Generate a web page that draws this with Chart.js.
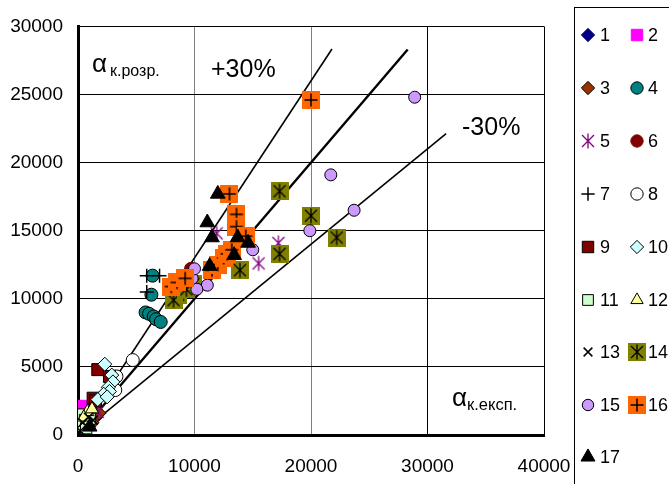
<!DOCTYPE html>
<html><head><meta charset="utf-8">
<script src="https://cdn.jsdelivr.net/npm/chart.js@4"></script>
<style>html,body{margin:0;padding:0;background:#fff}#wrap{width:669px;height:484px;position:relative}</style>
</head><body><div id="wrap"><canvas id="c" width="669" height="484"></canvas></div>
<script>
// ---- data (x = α к.експ., y = α к.розр.) ----
const seriesNames = ['1','2','3','4','5','6','7','8','9','10','11','12','13','14','15','16','17'];
const s1  = [[400,700],[1000,1400]];
const s2  = [[100,2100],[700,2100]];
const s3  = [[1500,1300],[1200,900],[1800,1600],[900,600]];
const s4  = [[6400,11700],[6300,10300],[5800,9000],[6100,8900],[6500,8700],[6700,8500],[7100,8300]];
const s5  = [[11900,14800],[17200,14100],[15500,12600],[1700,1700]];
const s6  = [[9700,12200]];
const s7  = [[5900,11700],[7000,11700],[5900,10500],[800,900]];
const s8  = [[4700,5500],[3300,4300],[3200,3300]];
const s9  = [[1700,4800],[2700,4300],[1300,2700],[1500,2500]];
const s10 = [[2300,5200],[2900,4400],[3000,3900],[2600,3500],[2700,3200],[2200,3000],[1700,2600],[2500,2800]];
const s11 = [[200,1500],[600,1100],[300,700],[700,500],[1000,1200]];
const s12 = [[800,1700],[1200,1900],[500,1300]];
const s13 = [[400,900],[900,1300],[1300,1100],[200,300]];
const s14 = [[17300,17900],[20000,16100],[22200,14500],[17300,13300],[13900,12100],[9900,11100],[8600,10300],[8200,9900],[9300,10700]];
const s15 = [[28900,24800],[21700,19100],[23700,16500],[19900,15000],[15000,13600],[11100,11000],[10200,10700],[9800,11500],[10000,12200]];
const s16 = [[8000,10900],[8500,11200],[9200,11500],[11500,12100],[12000,12500],[12500,13000],[12800,13300],[13200,13600],[13000,17700],[13600,16200],[13600,15300],[14400,14600],[20000,24600]];
const s17 = [[12000,17700],[11100,15600],[11500,14500],[13700,14500],[14600,14100],[13400,13200],[11300,12400],[1000,600]];
const lineExact = [[0,0],[28300,28300]];
const linePlus30 = [[0,0],[21800,28340]];
const lineMinus30 = [[0,0],[31600,22120]];
const xTicks = [0,10000,20000,30000,40000];
const yTicks = [0,5000,10000,15000,20000,25000,30000];

const FONT = '"Liberation Sans", Arial, sans-serif';

function mk(w,h,fn){const c=document.createElement('canvas');c.width=w;c.height=h;const g=c.getContext('2d');fn(g);return c;}
function asterisk(g,cx,cy,r,col,lw){g.strokeStyle=col;g.lineWidth=lw;g.beginPath();
  g.moveTo(cx-r,cy-r);g.lineTo(cx+r,cy+r);g.moveTo(cx+r,cy-r);g.lineTo(cx-r,cy+r);
  g.moveTo(cx,cy-r*1.25);g.lineTo(cx,cy+r*1.25);g.stroke();}
const imgStar = mk(18,18,g=>asterisk(g,9,9,6,'#800080',1.3));
const imgOlive = mk(18,18,g=>{g.fillStyle='#808000';g.fillRect(0,0,18,18);asterisk(g,9,9,6,'#000',1.3);});
const imgOrange = mk(18,18,g=>{g.fillStyle='#FF6600';g.fillRect(0,0,18,18);g.strokeStyle='#000';g.lineWidth=1.5;g.beginPath();g.moveTo(2.5,9);g.lineTo(15.5,9);g.moveTo(9,2.5);g.lineTo(9,15.5);g.stroke();});

const pts = a => a.map(p=>({x:p[0],y:p[1]}));
const styles = [
 {d:s1, ps:'rectRot', bg:'#000080', bc:'#000080', r:7},
 {d:s2, ps:'rect', bg:'#FF00FF', bc:'#FF00FF', r:8.5},
 {d:s3, ps:'rectRot', bg:'#993300', bc:'#000', r:7},
 {d:s4, ps:'circle', bg:'#008080', bc:'#000', r:6.5},
 {d:s5, ps:imgStar, bg:'#800080', bc:'#800080', r:7},
 {d:s6, ps:'circle', bg:'#800000', bc:'#800000', r:6.5},
 {d:s7, ps:'cross', bg:'#000', bc:'#000', r:7, bw:1.5},
 {d:s8, ps:'circle', bg:'#fff', bc:'#000', r:6.5},
 {d:s9, ps:'rect', bg:'#800000', bc:'#000', r:8.5},
 {d:s10, ps:'rectRot', bg:'#CCFFFF', bc:'#000', r:7},
 {d:s11, ps:'rect', bg:'#CCFFCC', bc:'#000', r:8},
 {d:s12, ps:'triangle', bg:'#FFFF99', bc:'#000', r:7.5},
 {d:s13, ps:'crossRot', bg:'#000', bc:'#000', r:6.5, bw:1.5},
 {d:s14, ps:imgOlive, bg:'#808000', bc:'#000', r:9},
 {d:s15, ps:'circle', bg:'#CC99FF', bc:'#000', r:6},
 {d:s16, ps:imgOrange, bg:'#FF6600', bc:'#000', r:9},
 {d:s17, ps:'triangle', bg:'#000', bc:'#000', r:8.5}
];

const datasets = styles.map((s,i)=>({
  label: seriesNames[i], data: pts(s.d), pointStyle: s.ps, pointRadius: s.r, pointHoverRadius: s.r,
  pointBackgroundColor: s.bg, pointBorderColor: s.bc, pointBorderWidth: s.bw||1, showLine:false, order: 17-i
}));
const lineDs = (d,w)=>({label:'', data: pts(d), showLine:true, borderColor:'#000', borderWidth:w, pointRadius:0, fill:false, order:100});
datasets.push(lineDs(lineExact,2.4), lineDs(linePlus30,1.6), lineDs(lineMinus30,1.6));

const overlay = {
  id:'overlay',
  afterDraw(chart){
    const g = chart.ctx;
    g.save();
    g.fillStyle='#000'; g.textBaseline='alphabetic'; g.textAlign='left';
    g.font = '26px '+FONT; g.fillText('α', 92, 72);
    g.font = '16px '+FONT; g.fillText('к.розр.', 110, 76);
    g.font = '25px '+FONT; g.fillText('+30%', 211, 77);
    g.fillText('-30%', 462, 135);
    g.font = '26px '+FONT; g.fillText('α', 452, 406);
    g.font = '16.5px '+FONT; g.fillText('к.експ.', 467, 410);
    g.strokeStyle='#000'; g.lineWidth=1;
    g.strokeRect(574.5, 7.5, 200, 500);
    const rows=[35,88,141,194,247,300,352,405,457];
    g.font = '18px '+FONT; g.textBaseline='middle';
    styles.forEach((s,i)=>{
      const col=i%2, row=Math.floor(i/2);
      const mx = col? 637:588, tx = col? 648:600, y=rows[row];
      g.save();
      g.fillStyle=s.bg; g.strokeStyle=s.bc; g.lineWidth=s.bw||1;
      Chart.helpers.drawPoint(g,{pointStyle:s.ps, radius:s.r*0.95, rotation:0, borderWidth:s.bw||1}, mx, y);
      g.restore();
      g.fillStyle='#000'; g.fillText(seriesNames[i], tx, y+1);
    });
    g.restore();
  }
};

new Chart(document.getElementById('c'), {
  type:'scatter',
  data:{datasets},
  options:{
    responsive:false, animation:false, devicePixelRatio:1,
    layout:{padding:{left:0, top:25, right:125, bottom:0}},
    plugins:{legend:{display:false}, tooltip:{enabled:false}},
    scales:{
      x:{type:'linear', min:0, max:40000,
        afterBuildTicks(sc){sc.ticks = xTicks.map(v=>({value:v}));},
        afterFit(sc){sc.height = 49;},
        ticks:{color:'#000', font:{family:FONT, size:19}, padding:20, maxRotation:0, autoSkip:false, callback:v=>String(v)},
        grid:{drawTicks:false, lineWidth:1, color:c=> (c.tick && (c.tick.value===10000||c.tick.value===20000)) ? '#808080' : '#000'},
        border:{display:true, width:3, color:'#000'}
      },
      y:{type:'linear', min:0, max:30000,
        afterBuildTicks(sc){sc.ticks = yTicks.map(v=>({value:v}));},
        afterFit(sc){sc.width = 78;},
        ticks:{color:'#000', font:{family:FONT, size:19}, padding:15, autoSkip:false, callback:v=>String(v)},
        grid:{drawTicks:false, lineWidth:1, color:'#000'},
        border:{display:true, width:3, color:'#000'}
      }
    }
  },
  plugins:[overlay]
});
</script></body></html>
